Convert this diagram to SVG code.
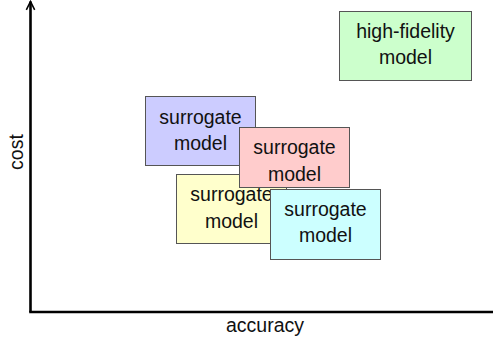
<svg xmlns="http://www.w3.org/2000/svg" width="493" height="343" viewBox="0 0 493 343">
<style>
.box{stroke:#555;stroke-width:1}
.t{font-family:"Liberation Sans",Arial,sans-serif;font-size:19.5px;fill:#111;text-anchor:middle}
.ax{stroke:#000;stroke-width:2.6;fill:none}
</style>
<defs>
<marker id="ah" viewBox="0 0 10 10" refX="9" refY="5" markerWidth="4" markerHeight="4" orient="auto" markerUnits="strokeWidth">
<path d="M1,1 L9,5 L1,9" fill="none" stroke="#000" stroke-width="1.5"/>
</marker>
</defs>
<g id="axes">
<path class="ax" d="M30.5,312 L30.5,1.5" marker-end="url(#ah)"/>
<path class="ax" d="M29.2,312 L493,312"/>
<text class="t" x="265" y="332">accuracy</text>
<text class="t" transform="translate(23,152) rotate(-90)">cost</text>
</g>
<g id="blue">
<rect class="box" x="145.5" y="96.5" width="110" height="69" fill="#ccccff"/>
<text class="t" x="200.5" y="124">surrogate</text>
<text class="t" x="200.5" y="150">model</text>
</g>
<g id="yellow">
<rect class="box" x="176.5" y="174.5" width="110" height="69" fill="#ffffcc"/>
<text class="t" x="231.5" y="201">surrogate</text>
<text class="t" x="231.5" y="228">model</text>
</g>
<g id="pink">
<rect class="box" x="239.5" y="127.5" width="110" height="60" fill="#ffcccc"/>
<text class="t" x="294.5" y="154">surrogate</text>
<text class="t" x="294.5" y="181">model</text>
</g>
<g id="cyan">
<rect class="box" x="270.5" y="189.5" width="110" height="70" fill="#ccffff"/>
<text class="t" x="325.5" y="216">surrogate</text>
<text class="t" x="325.5" y="242">model</text>
</g>
<g id="green">
<rect class="box" x="339.5" y="11.5" width="132" height="69" fill="#ccffcc"/>
<text class="t" x="405.5" y="38">high-fidelity</text>
<text class="t" x="405.5" y="64">model</text>
</g>
</svg>
